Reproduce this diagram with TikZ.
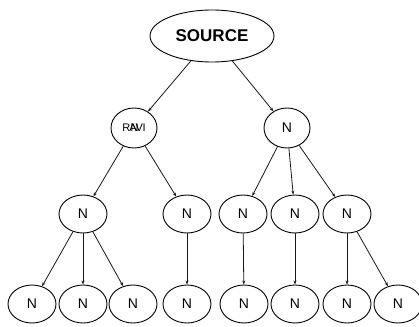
\documentclass[tikz,border=0pt]{standalone}
\usepackage{fontspec}
\setmainfont{Liberation Sans}
\usetikzlibrary{shapes.geometric,arrows.meta}
\begin{document}
\begin{tikzpicture}[x=1pt,y=-1pt,
  nd/.style={draw=black,ellipse,line width=0.9pt,minimum width=48pt,minimum height=38pt,inner sep=0pt,font=\fontsize{14}{14}\selectfont},
  edge/.style={draw=black!90,line width=0.8pt,-{Stealth[length=4pt,width=3pt]}}]
\useasboundingbox (0,0) rectangle (419,326);
\node[nd,minimum width=124pt,minimum height=52pt,font=\fontsize{17}{17}\selectfont\bfseries] (src) at (212,36) {SOURCE};
\node[nd,minimum width=46pt,minimum height=40pt,font=\fontsize{11}{11}\selectfont] (ravi) at (134,128) {\makebox[0pt]{R\kern-1pt A\kern-1pt V\kern-.5pt I}\makebox[0pt]{\kern1pt N}};
\node[nd,minimum width=46pt,minimum height=40pt] (r) at (287,128) {N};
\node[nd] (a) at (83,214) {N};
\node[nd] (b) at (187,214) {N};
\node[nd] (c) at (243,214) {N};
\node[nd] (d) at (295,214) {N};
\node[nd] (e) at (347,214) {N};
\node[nd] (a1) at (32,304) {N};
\node[nd] (a2) at (83,304) {N};
\node[nd] (a3) at (133,304) {N};
\node[nd] (b1) at (187,304) {N};
\node[nd] (c1) at (244,304) {N};
\node[nd] (d1) at (295,304) {N};
\node[nd] (e1) at (347,304) {N};
\node[nd] (e2) at (398,304) {N};
\draw[edge] (src) -- (ravi);
\draw[edge] (src) -- (r);
\draw[edge] (ravi) -- (a);
\draw[edge] (ravi) -- (b);
\draw[edge] (r) -- (c);
\draw[edge] (r) -- (d);
\draw[edge] (r) -- (e);
\draw[edge] (a) -- (a1);
\draw[edge] (a) -- (a2);
\draw[edge] (a) -- (a3);
\draw[edge] (b) -- (b1);
\draw[edge] (c) -- (c1);
\draw[edge] (d) -- (d1);
\draw[edge] (e) -- (e1);
\draw[edge] (e) -- (e2);
\end{tikzpicture}
\end{document}
